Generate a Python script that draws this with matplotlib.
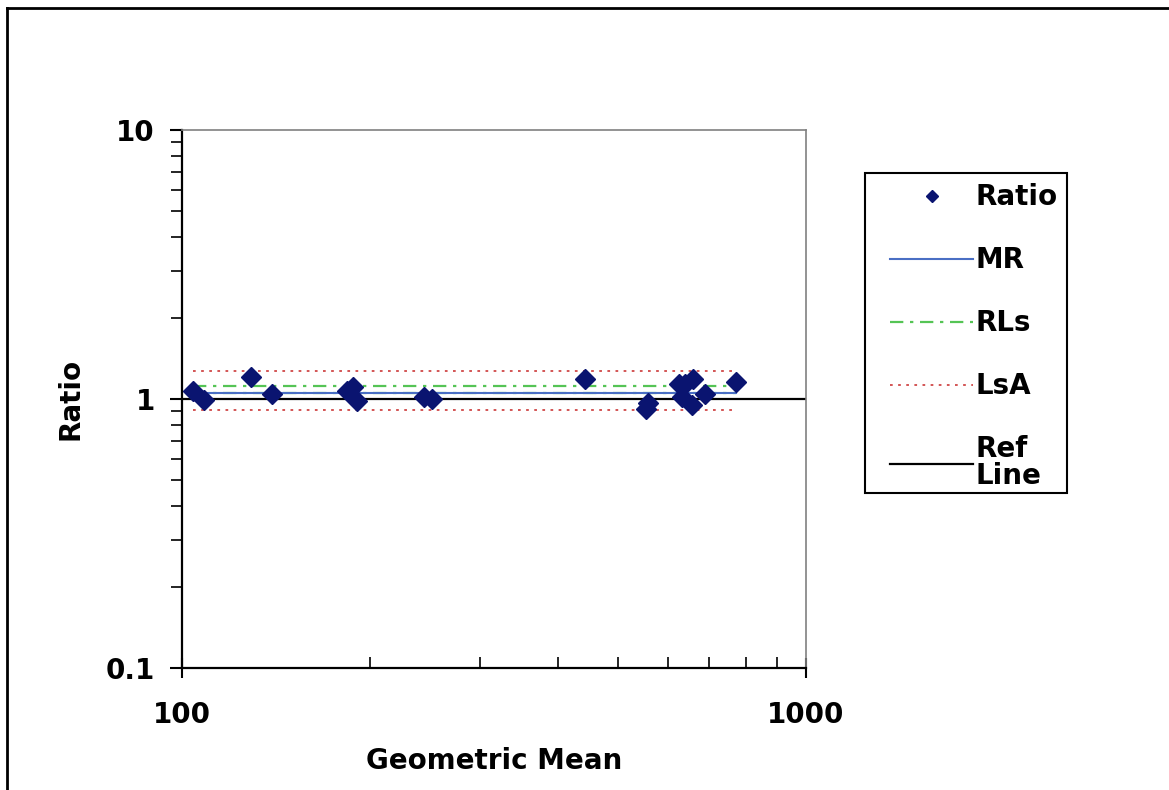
import matplotlib
matplotlib.use('Agg')
import matplotlib.pyplot as plt
from matplotlib.lines import Line2D
from matplotlib.patches import Rectangle

################################################################################
# Data.                                                     #
################################################################################

geo_mean = [104.0, 108.6, 128.9, 139.2, 184.1, 188.2, 191.0, 244.2, 251.8,
            443.0, 554.0, 559.0, 625.0, 633.0, 640.0, 659.0, 656.0, 689.0, 773.0]
ratio = [1.074, 0.991, 1.204, 1.044, 1.067, 1.105, 0.980, 1.020, 1.003,
         1.187, 0.918, 0.963, 1.137, 1.020, 1.140, 1.187, 0.950, 1.044, 1.153]

mr = 1.049
rl_upper = 1.121
rl_lower = 1.052
lsa_upper = 1.268
lsa_lower = 0.910
ref = 1.0

legend_labels = ['Ratio', 'MR', 'RLs', 'LsA', 'Ref\nLine']

################################################################################
# Plot.                                                                        #
################################################################################

plt.rcParams['font.family'] = ['DejaVu Sans']
plt.rcParams['font.weight'] = 'bold'

fig = plt.figure(figsize=(11.69, 7.90), dpi=100)
ax = fig.add_axes([0.1557, 0.1544, 0.5338, 0.6810])

xr = [min(geo_mean), max(geo_mean)]
dot = (0, (1.5, 3))
dashdot = (0, (6, 3, 1.5, 3))

# Statistic lines.
ax.plot(xr, [lsa_upper]*2, ls=dot, c='#d04848', lw=1.3)
ax.plot(xr, [lsa_lower]*2, ls=dot, c='#d04848', lw=1.3)
ax.plot(xr, [rl_upper]*2, ls=dashdot, c='#55c455', lw=1.6)
ax.plot(xr, [rl_lower]*2, ls=dashdot, c='#55c455', lw=1.6)
ax.plot(xr, [mr]*2, '-', c='#4a6fc4', lw=1.5)
ax.axhline(ref, c='k', lw=1.6)

# Ratio points.
ax.plot(geo_mean, ratio, 'D', ls='none', c='#0a1470', ms=10, zorder=5)

# Axes.
ax.set_xscale('log')
ax.set_yscale('log')
ax.set_xlim(100, 1000)
ax.set_ylim(0.1, 10)
ax.set_xticks([100, 1000])
ax.set_xticklabels(['100', '1000'])
ax.set_yticks([0.1, 1, 10])
ax.set_yticklabels(['0.1', '1', '10'])
ax.tick_params(axis='x', which='major', direction='inout', length=14, width=1.5, pad=17, labelsize=20)
ax.tick_params(axis='x', which='minor', direction='in', length=8, width=1.2)
ax.tick_params(axis='y', which='major', direction='out', length=9, width=1.5, pad=10.5, labelsize=20)
ax.tick_params(axis='y', which='minor', direction='out', length=8, width=1.2)
ax.xaxis.set_minor_formatter(matplotlib.ticker.NullFormatter())
ax.yaxis.set_minor_formatter(matplotlib.ticker.NullFormatter())
for s in ['left', 'bottom']:
  ax.spines[s].set_linewidth(1.6)
  ax.spines[s].set_color('k')
for s in ['top', 'right']:
  ax.spines[s].set_linewidth(1.2)
  ax.spines[s].set_color('#808080')

ax.set_xlabel('Geometric Mean', fontsize=20, fontweight='bold', labelpad=13)
ax.set_ylabel('Ratio', fontsize=20, fontweight='bold', labelpad=15)

# Legend (frame drawn separately).
handles = [
  Line2D([], [], marker='D', ls='none', c='#0a1470', ms=6.5),
  Line2D([], [], c='#4a6fc4', lw=1.5),
  Line2D([], [], ls=dashdot, c='#55c455', lw=1.6),
  Line2D([], [], ls=dot, c='#d04848', lw=1.3),
  Line2D([], [], c='k', lw=1.6),
]
leg = fig.legend(handles, legend_labels, loc='upper left', bbox_to_anchor=(0.7613, 0.768),
                 fontsize=20, frameon=False, labelspacing=1.26,
                 handlelength=3.0, handletextpad=0.08, borderpad=0, borderaxespad=0)
for t in leg.get_texts():
  t.set_fontweight('bold')
  t.set_linespacing(0.95)
fig.add_artist(Rectangle((0.740, 0.376), 0.1727, 0.405, transform=fig.transFigure,
                         fill=False, ec='k', lw=1.5))

# Outer border.
fig.add_artist(Line2D([0.006, 0.006], [0.0, 0.99], transform=fig.transFigure, c='k', lw=2))
fig.add_artist(Line2D([0.006, 1.0], [0.99, 0.99], transform=fig.transFigure, c='k', lw=2))

fig.savefig('out.png', dpi=100)
plt.close()
